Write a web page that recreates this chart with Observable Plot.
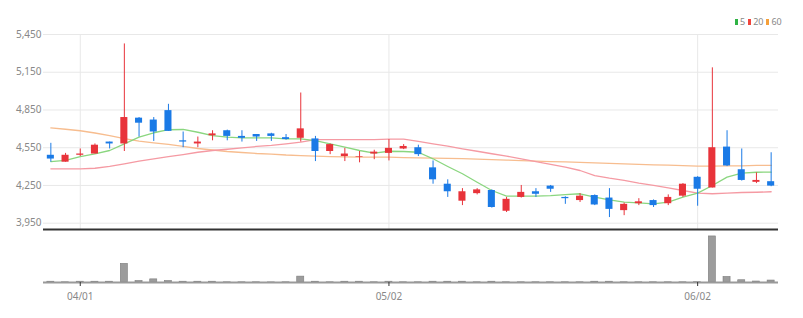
<!DOCTYPE html>
<html>
<head>
<meta charset="utf-8">
<script src="https://cdn.jsdelivr.net/npm/d3@7"></script>
<script src="https://cdn.jsdelivr.net/npm/@observablehq/plot@0.6"></script>
<style>
  body { margin: 0; background: #fff; font-family: "Noto Sans", sans-serif; }
  #wrap { position: relative; width: 803px; height: 318px; overflow: hidden; }
  #legend { position: absolute; top: 16px; left: 735px; font-size: 9px; color: #888;
            display: flex; align-items: center; line-height: 12px; }
  #legend span.sw { display: inline-block; width: 3px; height: 6px; margin-right: 2px; }
  #legend span.lb { margin-right: 3px; }
  svg { display: block; }
</style>
</head>
<body>
<div id="wrap">
  <div id="charts"></div>
  <div id="legend"></div>
</div>
<script>
// Trading days shown on the chart
const dates = [
  "03/28","03/29",
  "04/01","04/02","04/03","04/04","04/05","04/08","04/09","04/11","04/12","04/15",
  "04/16","04/17","04/18","04/19","04/22","04/23","04/24","04/25","04/26","04/29","04/30",
  "05/02","05/03","05/06","05/07","05/08","05/09","05/10","05/13","05/14","05/16","05/17",
  "05/20","05/21","05/22","05/23","05/24","05/27","05/28","05/29","05/30","05/31",
  "06/02","06/03","06/04","06/05","06/07","06/10"
];
const tickLabels = ["04/01", "05/02", "06/02"];
const priceTicks = [3950, 4250, 4550, 4850, 5150, 5450];

// Daily prices
const open = [4490,4435,4490,4500,4595,4580,4785,4770,4845,4605,4580,4645,4685,4640,4655,4660,4630,4625,4620,4520,4480,4475,4500,4505,4540,4550,4390,4260,4125,4185,4210,4045,4155,4200,4245,4155,4130,4170,4150,4050,4105,4130,4105,4165,4315,4230,4555,4375,4275,4280];
const high = [4585,4505,4540,4580,4595,5375,4790,4790,4895,4675,4635,4685,4690,4685,4655,4665,4655,4985,4640,4580,4545,4520,4530,4615,4575,4570,4445,4295,4225,4225,4215,4155,4250,4225,4250,4160,4185,4175,4225,4110,4145,4135,4175,4265,4320,5185,4685,4540,4350,4510];
const low = [4435,4435,4480,4500,4540,4520,4635,4600,4680,4550,4550,4605,4605,4595,4600,4600,4610,4595,4440,4495,4440,4430,4455,4445,4535,4480,4260,4155,4090,4175,4070,4035,4150,4155,4195,4100,4115,4090,3995,4010,4090,4075,4090,4155,4085,4230,4400,4285,4265,4240];
const close = [4460,4490,4500,4570,4580,4790,4745,4675,4680,4595,4595,4660,4640,4625,4635,4640,4615,4700,4520,4575,4500,4480,4515,4545,4560,4495,4295,4200,4200,4215,4075,4140,4195,4180,4220,4145,4165,4095,4060,4100,4120,4090,4155,4260,4220,4550,4405,4290,4290,4245];

// Volume (thousand shares)
const volume = [8,2,8,8,8,190,15,32,15,8,8,8,2,2,2,1,2,60,8,2,8,8,2,8,2,2,8,8,8,2,8,2,2,2,2,2,2,8,8,2,2,2,2,2,3,470,57,23,10,20];

// Moving averages
const ma5 = [4440,4449,4480,4502,4528,4581,4634,4669,4693,4695,4673,4647,4634,4629,4629,4629,4621,4621,4607,4581,4554,4528,4507,4522,4520,4514,4462,4401,4343,4276,4210,4165,4165,4165,4170,4178,4184,4157,4136,4117,4112,4104,4117,4157,4189,4250,4316,4348,4355,4356];
const ma20 = [4382,4382,4382,4387,4401,4422,4443,4462,4480,4496,4514,4528,4538,4549,4560,4568,4581,4594,4615,4615,4615,4615,4615,4618,4618,4600,4581,4562,4541,4522,4502,4483,4462,4440,4417,4395,4369,4329,4308,4290,4268,4250,4231,4210,4189,4184,4189,4194,4196,4200];
const ma60 = [4708,4697,4685,4667,4647,4623,4603,4589,4576,4560,4544,4532,4520,4512,4504,4499,4492,4488,4484,4480,4478,4476,4475,4475,4472,4470,4468,4466,4463,4460,4456,4452,4448,4444,4440,4437,4433,4429,4425,4421,4417,4414,4411,4407,4403,4403,4405,4406,4409,4409];

const legendItems = [
  {label: "5", color: "#2fb344"},
  {label: "20", color: "#f0443c"},
  {label: "60", color: "#f5a03a"}
];

const UP = "#e8333a", DOWN = "#1a7ae6";
const rows = dates.map((d, i) => ({
  i, d, o: open[i], h: high[i], l: low[i], c: close[i], v: volume[i],
  m5: ma5[i], m20: ma20[i], m60: ma60[i],
  col: close[i] >= open[i] ? UP : DOWN
}));
const tickIdx = tickLabels.map(t => dates.indexOf(t));
const xDomain = [-0.5, dates.length - 0.5];
const half = 0.24;
const font = {fontFamily: "'Noto Sans', sans-serif", fontSize: "10px", color: "#888", background: "transparent", overflow: "visible"};

const priceChart = Plot.plot({
  width: 803, height: 232,
  marginTop: 34, marginBottom: 3, marginLeft: 43, marginRight: 25,
  style: font,
  x: {type: "linear", domain: xDomain, axis: null},
  y: {domain: [3900, 5450], axis: null},
  marks: [
    Plot.gridY(priceTicks, {stroke: "#e8e8e8", strokeOpacity: 1}),
    Plot.gridX(tickIdx, {stroke: "#e8e8e8", strokeOpacity: 1}),
    Plot.axisY(priceTicks, {tickSize: 0, tickPadding: 2, tickFormat: d3.format(","), fill: "#888"}),
    Plot.line(rows, {x: "i", y: "m60", stroke: "#f7bd8f", strokeWidth: 1.3}),
    Plot.line(rows, {x: "i", y: "m20", stroke: "#f59aa3", strokeWidth: 1.3}),
    Plot.line(rows, {x: "i", y: "m5", stroke: "#8ad67f", strokeWidth: 1.3}),
    Plot.ruleX(rows, {x: "i", y1: "l", y2: "h", stroke: "col", strokeWidth: 1}),
    Plot.rect(rows, {x1: d => d.i - half, x2: d => d.i + half, y1: "o", y2: "c", fill: "col"}),
    Plot.ruleY([3900], {stroke: "#333", strokeWidth: 2})
  ]
});

const volumeChart = Plot.plot({
  width: 803, height: 86,
  marginTop: 1, marginBottom: 36, marginLeft: 43, marginRight: 25,
  style: font,
  x: {type: "linear", domain: xDomain, axis: null},
  y: {domain: [0, 500], axis: null},
  marks: [
    Plot.rect(rows, {x1: d => d.i - half, x2: d => d.i + half, y1: 0, y2: "v", fill: "#9c9c9c", stroke: "#7d7d7d", strokeWidth: 0.6}),
    Plot.ruleY([0], {stroke: "#9a9a9a", strokeWidth: 2}),
    Plot.axisX(tickIdx, {tickSize: 4, tickPadding: 6, stroke: "#333", fill: "#888", tickFormat: i => dates[i]})
  ]
});

const charts = document.getElementById("charts");
charts.append(priceChart, volumeChart);

const legend = document.getElementById("legend");
for (const item of legendItems) {
  const sw = document.createElement("span");
  sw.className = "sw";
  sw.style.background = item.color;
  const lb = document.createElement("span");
  lb.className = "lb";
  lb.textContent = item.label;
  legend.append(sw, lb);
}
</script>
</body>
</html>
